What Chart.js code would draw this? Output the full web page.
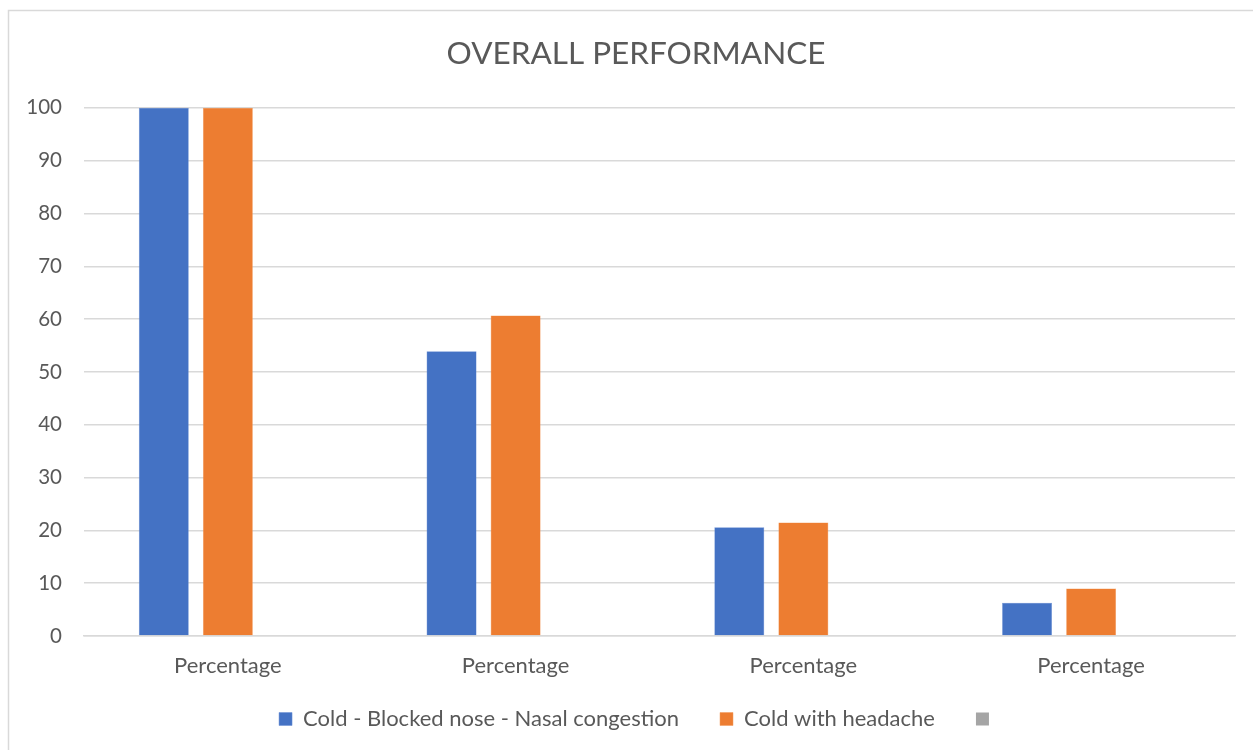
<!DOCTYPE html>
<html>
<head>
<meta charset="utf-8">
<script src="https://cdn.jsdelivr.net/npm/chart.js@4.4.0/dist/chart.umd.min.js"></script>
<style>
  html, body { margin: 0; padding: 0; background: #ffffff; }
  #wrap { width: 1253px; height: 750px; position: relative; }
</style>
</head>
<body>
<div id="wrap"><canvas id="c" width="1253" height="750"></canvas></div>
<script>
const categories = ["Percentage", "Percentage", "Percentage", "Percentage"];
const seriesNames = ["Cold - Blocked nose - Nasal congestion", "Cold with headache", ""];
const blockedNose = [100, 53.9, 20.6, 6.3];
const withHeadache = [100, 60.7, 21.5, 9.0];
const thirdSeries = [null, null, null, null];
const yTicks = [0, 10, 20, 30, 40, 50, 60, 70, 80, 90, 100];

const FONT = "Lato, 'Open Sans', sans-serif";
const TEXT = "#595959";
const GRID = "#d9d9d9";

const borderPlugin = {
  id: 'outerBorder',
  beforeDraw(chart) {
    const ctx = chart.ctx;
    ctx.save();
    ctx.fillStyle = '#ffffff';
    ctx.fillRect(0, 0, chart.width, chart.height);
    ctx.strokeStyle = '#d9d9d9';
    ctx.lineWidth = 1.5;
    ctx.strokeRect(8.5, 10.5, chart.width + 20, chart.height + 20);
    ctx.restore();
  }
};

// Centre title and legend on the full chart frame (which extends past the right edge)
const centerPlugin = {
  id: 'centerShift',
  afterLayout(chart) {
    const t = chart.titleBlock;
    if (t) { t.left += 18.5; t.right += 18.5; }
    const l = chart.legend;
    if (l) { l.left += 22; l.right += 22; }
  }
};

new Chart(document.getElementById('c'), {
  type: 'bar',
  data: {
    labels: categories,
    datasets: [
      { label: seriesNames[0], data: blockedNose, backgroundColor: '#4472C4', borderColor: '#6a8fd4', borderWidth: 0.5 },
      { label: seriesNames[1], data: withHeadache, backgroundColor: '#ED7D31', borderColor: '#f29a5c', borderWidth: 0.5 },
      { label: seriesNames[2], data: thirdSeries, backgroundColor: '#A5A5A5' }
    ]
  },
  options: {
    responsive: false,
    animation: false,
    devicePixelRatio: 1,
    layout: { padding: { top: 0, right: 18, bottom: 10, left: 0 } },
    datasets: { bar: { categoryPercentage: 0.668, barPercentage: 0.78 } },
    plugins: {
      title: {
        display: true,
        text: 'OVERALL PERFORMANCE',
        color: TEXT,
        font: { family: FONT, size: 31.5, weight: 'normal' },
        padding: { top: 35, bottom: 35 }
      },
      legend: {
        position: 'bottom',
        labels: {
          color: TEXT,
          font: { family: FONT, size: 22 },
          boxWidth: 13,
          boxHeight: 13,
          padding: 41
        }
      },
      tooltip: { enabled: false }
    },
    scales: {
      x: {
        grid: { display: false, drawTicks: false },
        border: { color: GRID, width: 1.5 },
        ticks: { color: TEXT, font: { family: FONT, size: 22 }, padding: 17 },
        afterFit(scale) {
          scale.height = 31;
          scale._computeLabelArea = function () { return undefined; };
        }
      },
      y: {
        min: 0, max: 100,
        afterBuildTicks(scale) { scale.ticks = yTicks.map(v => ({ value: v })); },
        grid: { color: GRID, lineWidth: 1.5, drawTicks: false },
        border: { display: false },
        ticks: { color: TEXT, font: { family: FONT, size: 20.5 }, padding: 22 },
        afterFit(scale) { scale.width = 84; }
      }
    }
  },
  plugins: [borderPlugin, centerPlugin]
});
</script>
</body>
</html>
